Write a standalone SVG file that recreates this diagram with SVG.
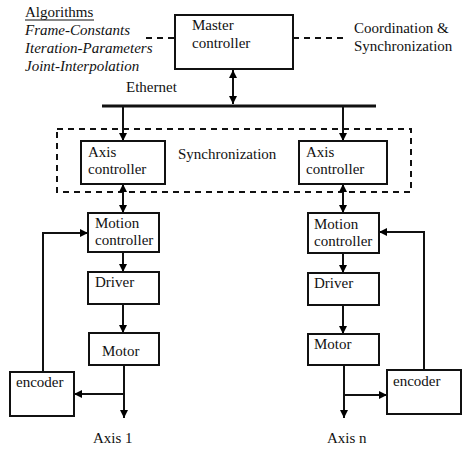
<svg xmlns="http://www.w3.org/2000/svg" width="469" height="454" viewBox="0 0 469 454" font-family="'Liberation Serif', 'Times New Roman', 'DejaVu Serif', serif">
<defs>
<marker id="ah" viewBox="0 0 10 10" refX="10" refY="5" markerWidth="8" markerHeight="8" markerUnits="userSpaceOnUse" orient="auto-start-reverse">
<path d="M0,0 L10,5 L0,10 Z" fill="#000"/>
</marker>
<style>
text{font-size:15px;fill:#111}
.it{font-style:italic}
.box{fill:#fff;stroke:#111;stroke-width:2}
.ln{fill:none;stroke:#111;stroke-width:2}
.dash{fill:none;stroke:#111;stroke-width:2;stroke-dasharray:6,5}
</style>
</defs>
<rect width="469" height="454" fill="#fff"/>
<g id="algorithms">
<text x="25" y="17">Algorithms</text>
<line x1="25" y1="20" x2="94" y2="20" stroke="#111" stroke-width="1"/>
<text class="it" x="25" y="35">Frame-Constants</text>
<text class="it" x="25" y="53">Iteration-Parameters</text>
<text class="it" x="25" y="71">Joint-Interpolation</text>
</g>
<g id="coordination">
<text x="354" y="33">Coordination &amp;</text>
<text x="354" y="51">Synchronization</text>
</g>
<g id="sync-group">
<rect class="dash" x="57" y="129" width="354" height="63"/>
<text x="178" y="159">Synchronization</text>
</g>
<g id="ethernet-label"><text x="126" y="92">Ethernet</text></g>
<g id="connectors">
<line class="dash" x1="146" y1="38" x2="175" y2="38"/>
<line class="dash" x1="293" y1="38" x2="345" y2="38"/>
<line x1="102" y1="106" x2="376" y2="106" stroke="#111" stroke-width="3"/>
<line class="ln" x1="233" y1="70" x2="233" y2="104" marker-start="url(#ah)" marker-end="url(#ah)"/>
<line class="ln" x1="123" y1="107" x2="123" y2="141" marker-end="url(#ah)"/>
<line class="ln" x1="343" y1="107" x2="343" y2="141" marker-end="url(#ah)"/>
<line class="ln" x1="123" y1="184" x2="123" y2="213" marker-start="url(#ah)" marker-end="url(#ah)"/>
<line class="ln" x1="343" y1="184" x2="343" y2="213" marker-start="url(#ah)" marker-end="url(#ah)"/>
<line class="ln" x1="123" y1="252" x2="123" y2="272" marker-end="url(#ah)"/>
<line class="ln" x1="343" y1="253" x2="343" y2="273" marker-end="url(#ah)"/>
<line class="ln" x1="123" y1="304" x2="123" y2="333" marker-end="url(#ah)"/>
<line class="ln" x1="343" y1="305" x2="343" y2="334" marker-end="url(#ah)"/>
<line class="ln" x1="124" y1="365" x2="124" y2="418" marker-end="url(#ah)"/>
<line class="ln" x1="344" y1="365" x2="344" y2="418" marker-end="url(#ah)"/>
<line class="ln" x1="124" y1="394" x2="74" y2="394" marker-end="url(#ah)"/>
<line class="ln" x1="344" y1="395" x2="387" y2="395" marker-end="url(#ah)"/>
<polyline class="ln" points="43,372 43,233 88,233" marker-end="url(#ah)"/>
<polyline class="ln" points="424,370 424,232 379,232" marker-end="url(#ah)"/>
</g>
<g id="master">
<rect class="box" x="175" y="15" width="118" height="54"/>
<text x="192" y="30">Master</text>
<text x="192" y="48">controller</text>
</g>
<g id="axis1-ctrl">
<rect class="box" x="81" y="141" width="84" height="43"/>
<text x="88" y="157">Axis</text>
<text x="88" y="174">controller</text>
</g>
<g id="axisn-ctrl">
<rect class="box" x="299" y="141" width="88" height="43"/>
<text x="306" y="157">Axis</text>
<text x="306" y="174">controller</text>
</g>
<g id="motion1">
<rect class="box" x="88" y="213" width="71" height="39"/>
<text x="95" y="228">Motion</text>
<text x="95" y="245">controller</text>
</g>
<g id="driver1">
<rect class="box" x="88" y="272" width="71" height="32"/>
<text x="95" y="287">Driver</text>
</g>
<g id="motor1">
<rect class="box" x="89" y="333" width="70" height="32"/>
<text x="102" y="356">Motor</text>
</g>
<g id="encoder1">
<rect class="box" x="10" y="372" width="64" height="44"/>
<text x="16" y="387">encoder</text>
</g>
<g id="motionn">
<rect class="box" x="308" y="213" width="71" height="40"/>
<text x="314" y="229">Motion</text>
<text x="314" y="246">controller</text>
</g>
<g id="drivern">
<rect class="box" x="308" y="273" width="71" height="32"/>
<text x="314" y="288">Driver</text>
</g>
<g id="motorn">
<rect class="box" x="308" y="334" width="71" height="31"/>
<text x="314" y="349">Motor</text>
</g>
<g id="encodern">
<rect class="box" x="387" y="370" width="74" height="44"/>
<text x="393" y="386">encoder</text>
</g>
<g id="axis-labels">
<text x="93" y="443">Axis 1</text>
<text x="327" y="443">Axis n</text>
</g>
</svg>
